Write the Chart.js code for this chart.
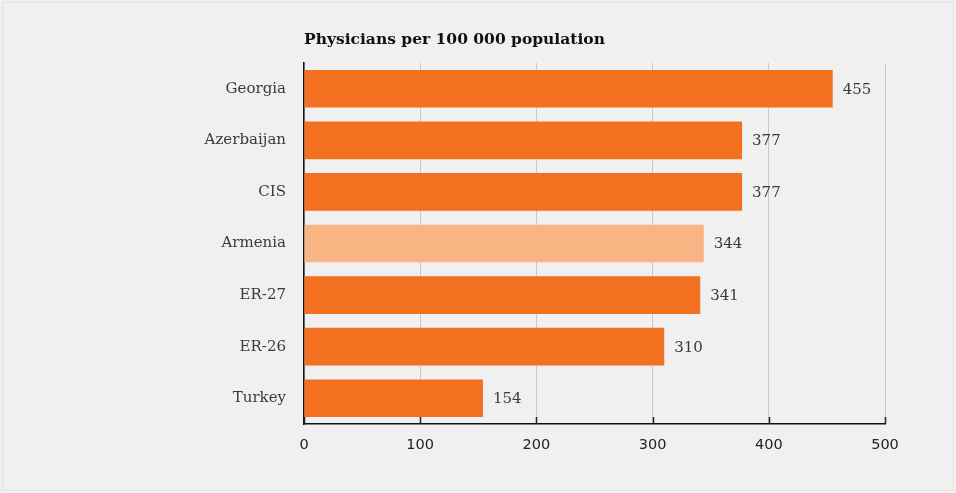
<!DOCTYPE html>
<html>
<head>
<meta charset="utf-8">
<script src="https://cdn.jsdelivr.net/npm/chart.js@4.4.1/dist/chart.umd.min.js"></script>
<style>
  html, body { margin: 0; padding: 0; background: #f0f0f0; }
  #wrap { width: 956px; height: 493px; position: relative; }
</style>
</head>
<body>
<div id="wrap"><canvas id="c" width="956" height="493"></canvas></div>
<script>
// Physicians per 100 000 population, by country / group
const categories = ['Georgia', 'Azerbaijan', 'CIS', 'Armenia', 'ER-27', 'ER-26', 'Turkey'];
const physicians = [455, 377, 377, 344, 341, 310, 154];
const highlighted = 'Armenia';
const xTicks = [0, 100, 200, 300, 400, 500];
const chartTitle = 'Physicians per 100 000 population';

const ORANGE = '#f37021';
const ORANGE_LIGHT = '#f9b483';
const labelFont = '15px "DejaVu Serif"';

const barColors = categories.map(c => c === highlighted ? ORANGE_LIGHT : ORANGE);

// frame, title, inward tick marks and value labels
const decorations = {
  id: 'decorations',
  beforeDraw(chart) {
    const ctx = chart.ctx;
    ctx.save();
    ctx.fillStyle = '#f0f0f0';
    ctx.fillRect(0, 0, chart.width, chart.height);
    ctx.strokeStyle = '#e2e2e2';
    ctx.lineWidth = 1;
    ctx.strokeRect(2.5, 2.5, chart.width - 5, chart.height - 5);
    ctx.restore();
  },
  afterDraw(chart) {
    const ctx = chart.ctx;
    const area = chart.chartArea;
    const xs = chart.scales.x;
    ctx.save();
    // title
    ctx.fillStyle = '#111';
    ctx.font = 'bold 15.5px "DejaVu Serif"';
    ctx.textAlign = 'left';
    ctx.textBaseline = 'alphabetic';
    ctx.fillText(chartTitle, area.left, 44);
    // tick marks pointing into the plot
    ctx.strokeStyle = '#222';
    ctx.lineWidth = 1.5;
    xTicks.forEach(v => {
      const x = Math.round(xs.getPixelForValue(v)) + 0.5;
      ctx.beginPath();
      ctx.moveTo(x, area.bottom);
      ctx.lineTo(x, area.bottom - 7);
      ctx.stroke();
    });
    // value labels
    ctx.fillStyle = '#3a3a3a';
    ctx.font = labelFont;
    ctx.textBaseline = 'middle';
    const meta = chart.getDatasetMeta(0);
    meta.data.forEach((bar, i) => {
      ctx.fillText(String(physicians[i]), bar.x + 10, bar.y + 1);
    });
    ctx.restore();
  }
};

new Chart(document.getElementById('c'), {
  type: 'bar',
  data: {
    labels: categories,
    datasets: [{
      data: physicians,
      backgroundColor: barColors,
      borderWidth: 0,
      categoryPercentage: 1.0,
      barPercentage: 0.73
    }]
  },
  options: {
    indexAxis: 'y',
    responsive: false,
    animation: false,
    devicePixelRatio: 1,
    layout: { padding: { top: 63, right: 71, bottom: 0, left: 0 } },
    plugins: { legend: { display: false }, tooltip: { enabled: false }, title: { display: false } },
    scales: {
      x: {
        min: 0, max: 500,
        afterBuildTicks(s) { s.ticks = xTicks.map(v => ({ value: v })); },
        afterFit(s) { s.height = 69; },
        grid: { color: '#c8c8c8', lineWidth: 1, drawTicks: false },
        border: { display: true, color: '#111', width: 1.5 },
        ticks: { color: '#222', font: { family: 'DejaVu Sans', size: 14.5 }, padding: 13 }
      },
      y: {
        afterFit(s) { s.width = 304; },
        grid: { display: false, drawTicks: false },
        border: { display: true, color: '#111', width: 1.5 },
        ticks: { color: '#3a3a3a', font: { family: 'DejaVu Serif', size: 15 }, padding: 18 }
      }
    }
  },
  plugins: [decorations]
});
</script>
</body>
</html>
